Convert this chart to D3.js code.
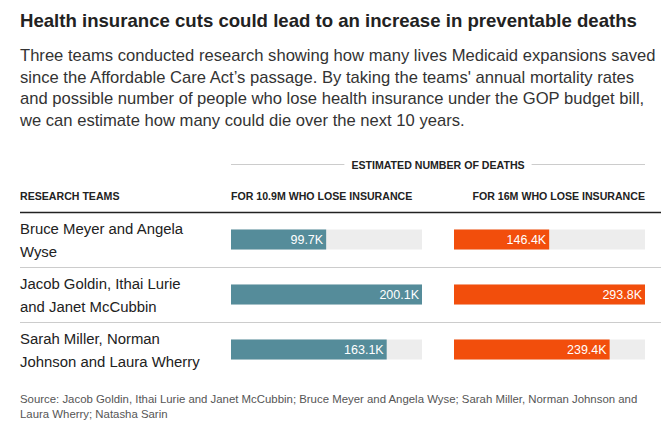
<!DOCTYPE html>
<meta charset="utf-8">
<style>
    body { margin: 0; background: #fff; }
    text { font-family: "Liberation Sans", Arial, sans-serif; }
    .title { font-weight: 700; font-size: 18.6px; fill: #222; }
    .sub { font-size: 16.6px; fill: #333; }
    .head { font-weight: 700; font-size: 10.6px; fill: #222; }
    .team { font-size: 14.9px; fill: #222; }
    .val { font-size: 12.5px; fill: #fff; }
    .src { font-size: 11.4px; fill: #555; }
</style>
<svg id="chart" width="666" height="446"></svg>
<script src="https://cdn.jsdelivr.net/npm/d3@7"></script>
<script>
    var title = "Health insurance cuts could lead to an increase in preventable deaths";
    var subtitle = [
        "Three teams conducted research showing how many lives Medicaid expansions saved",
        "since the Affordable Care Act\u2019s passage. By taking the teams' annual mortality rates",
        "and possible number of people who lose health insurance under the GOP budget bill,",
        "we can estimate how many could die over the next 10 years."
    ];
    var teams = [
        ["Bruce Meyer and Angela", "Wyse"],
        ["Jacob Goldin, Ithai Lurie", "and Janet McCubbin"],
        ["Sarah Miller, Norman", "Johnson and Laura Wherry"]
    ];
    var columns = ["FOR 10.9M WHO LOSE INSURANCE", "FOR 16M WHO LOSE INSURANCE"];
    var deaths109 = [99.7, 200.1, 163.1];   // thousands
    var deaths16 = [146.4, 293.8, 239.4];
    var source = [
        "Source: Jacob Goldin, Ithai Lurie and Janet McCubbin; Bruce Meyer and Angela Wyse; Sarah Miller, Norman Johnson and",
        "Laura Wherry; Natasha Sarin"
    ];

    var svg = d3.select("#chart"),
        left = 20, right = 661,
        colX = [231, 454], colW = 191,
        barH = 20;

    // title + dek
    svg.append("text").attr("class", "title").attr("x", left).attr("y", 26.5).text(title);
    svg.selectAll(".sub").data(subtitle).enter().append("text")
        .attr("class", "sub")
        .attr("x", left)
        .attr("y", function (d, i) { return 61 + i * 21.7; })
        .text(function (d) { return d; });

    // group heading with rules either side
    var mid = 438;
    var grp = svg.append("text").attr("class", "head")
        .attr("x", mid).attr("y", 168.5)
        .attr("text-anchor", "middle")
        .text("ESTIMATED NUMBER OF DEATHS");
    var gw = grp.node().getComputedTextLength();
    svg.append("line").attr("x1", colX[0]).attr("x2", mid - gw / 2 - 7).attr("y1", 164.5).attr("y2", 164.5)
        .attr("stroke", "#ccc");
    svg.append("line").attr("x1", mid + gw / 2 + 7).attr("x2", colX[1] + colW).attr("y1", 164.5).attr("y2", 164.5)
        .attr("stroke", "#ccc");

    // column headers
    svg.append("text").attr("class", "head").attr("x", left).attr("y", 199.5).text("RESEARCH TEAMS");
    svg.append("text").attr("class", "head").attr("x", colX[0]).attr("y", 199.5).text(columns[0]);
    svg.append("text").attr("class", "head").attr("x", colX[1] + colW).attr("y", 199.5)
        .attr("text-anchor", "end").text(columns[1]);

    var y = d3.scaleBand().domain(d3.range(teams.length)).range([212, 377]);
    var x1 = d3.scaleLinear().domain([0, d3.max(deaths109)]).range([0, colW]);
    var x2 = d3.scaleLinear().domain([0, d3.max(deaths16)]).range([0, colW]);

    // rules
    svg.append("line").attr("x1", left).attr("x2", right).attr("y1", 212.5).attr("y2", 212.5)
        .attr("stroke", "#222").attr("stroke-width", 1.5);
    svg.selectAll(".sep").data(d3.range(1, teams.length)).enter().append("line")
        .attr("class", "sep")
        .attr("x1", left).attr("x2", right)
        .attr("y1", function (i) { return y(i) + 0.5; })
        .attr("y2", function (i) { return y(i) + 0.5; })
        .attr("stroke", "#ccc");

    var row = svg.selectAll(".row").data(teams).enter().append("g")
        .attr("class", "row")
        .attr("transform", function (d, i) { return "translate(0," + y(i) + ")"; });

    row.append("text").attr("class", "team")
        .selectAll("tspan").data(function (d) { return d; }).enter().append("tspan")
        .attr("x", left)
        .attr("y", function (d, i) { return 22 + i * 22.5; })
        .text(function (d) { return d; });

    var fmt = function (v) { return v.toFixed(1) + "K"; };
    var sets = [
        { vals: deaths109, x: x1, color: "#558c9a", x0: colX[0] },
        { vals: deaths16, x: x2, color: "#f24e0c", x0: colX[1] }
    ];
    sets.forEach(function (s) {
        row.append("rect")
            .attr("x", s.x0).attr("y", (y.bandwidth() - barH) / 2)
            .attr("width", colW).attr("height", barH)
            .attr("fill", "#ededed");
        row.append("rect")
            .attr("x", s.x0).attr("y", (y.bandwidth() - barH) / 2)
            .attr("width", function (d, i) { return s.x(s.vals[i]); })
            .attr("height", barH)
            .attr("fill", s.color);
        row.append("text").attr("class", "val")
            .attr("x", function (d, i) { return s.x0 + s.x(s.vals[i]) - 3; })
            .attr("y", y.bandwidth() / 2 + 4.5)
            .attr("text-anchor", "end")
            .text(function (d, i) { return fmt(s.vals[i]); });
    });

    svg.selectAll(".src").data(source).enter().append("text")
        .attr("class", "src")
        .attr("x", left)
        .attr("y", function (d, i) { return 403 + i * 14.5; })
        .text(function (d) { return d; });
</script>
